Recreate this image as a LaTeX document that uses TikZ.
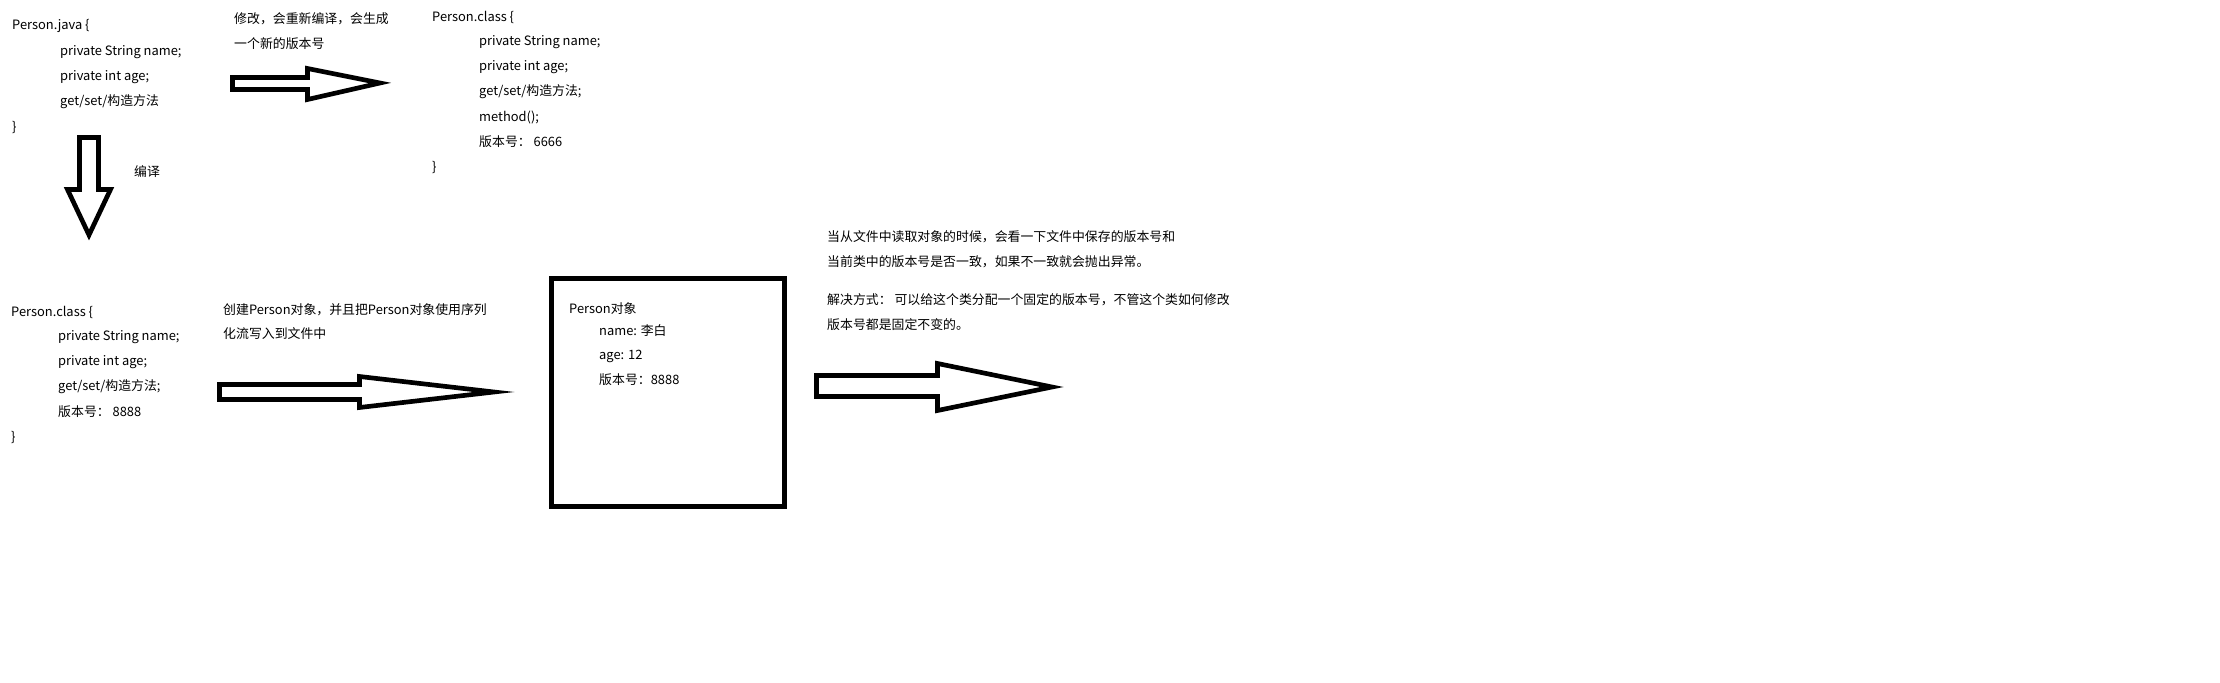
\documentclass[tikz,border=0pt]{standalone}
\usepackage{fontspec}
\setmainfont{Noto Sans CJK SC}
\begin{document}
\begin{tikzpicture}[x=0.03cm, y=-0.03cm,
        every node/.style={anchor=west, inner sep=0pt, font=\fontsize{11}{13}\selectfont},
        blockarrow/.style={draw, line width=0.14cm, line join=miter},
        objbox/.style={draw, line width=0.15cm}]
    \useasboundingbox (0,0) rectangle (2220,683);
    % source file
    \node (java0) at (12,26) {Person.java \{};
    \node (java1) at (60,52) {private String name;};
    \node (java2) at (60,77) {private int age;};
    \node (java3) at (60,102) {get/set/构造方法};
    \node (java4) at (12,127) {\}};
    \node (compile) at (134,172) {编译};
    % changed class
    \node (edit1) at (234,19) {修改，会重新编译，会生成};
    \node (edit2) at (234,44) {一个新的版本号};
    \node (new0) at (432,17) {Person.class \{};
    \node (new1) at (479,42) {private String name;};
    \node (new2) at (479,67) {private int age;};
    \node (new3) at (479,92) {get/set/构造方法;};
    \node (new4) at (479,117) {method();};
    \node (new5) at (479,142) {版本号： 6666};
    \node (new6) at (432,167) {\}};
    % compiled class
    \node (cls0) at (11,312) {Person.class \{};
    \node (cls1) at (58,337) {private String name;};
    \node (cls2) at (58,362) {private int age;};
    \node (cls3) at (58,387) {get/set/构造方法;};
    \node (cls4) at (58,412) {版本号： 8888};
    \node (cls5) at (11,437) {\}};
    \node (write1) at (223,310) {创建Person对象，并且把Person对象使用序列};
    \node (write2) at (223,334) {化流写入到文件中};
    % object in file
    \draw[objbox] (551.5,278.5) rectangle (784.5,506.5);
    \node (obj0) at (569,309) {Person对象};
    \node (obj1) at (599,331) {name: 李白};
    \node (obj2) at (599,356) {age: 12};
    \node (obj3) at (599,380) {版本号：8888};
    % explanation
    \node (read1) at (827,237) {当从文件中读取对象的时候，会看一下文件中保存的版本号和};
    \node (read2) at (827,262) {当前类中的版本号是否一致，如果不一致就会抛出异常。};
    \node (fix1) at (827,300) {解决方式： 可以给这个类分配一个固定的版本号，不管这个类如何修改};
    \node (fix2) at (827,325) {版本号都是固定不变的。};
    % block arrows
    \draw[blockarrow] (232.5,77.5) -- (307.5,77.5) -- (307.5,68.5) -- (380,83)
        -- (307.5,99.5) -- (307.5,89.5) -- (232.5,89.5) -- cycle;
    \draw[blockarrow] (79.5,137.5) -- (98.5,137.5) -- (98.5,189.5) -- (110.5,189.5)
        -- (89,235) -- (67.5,189.5) -- (79.5,189.5) -- cycle;
    \draw[blockarrow] (219.5,384.5) -- (359.5,384.5) -- (359.5,376.5) -- (494,392)
        -- (359.5,407.5) -- (359.5,399.5) -- (219.5,399.5) -- cycle;
    \draw[blockarrow] (816.5,375.5) -- (937.5,375.5) -- (937.5,363.5) -- (1052,387)
        -- (937.5,410.5) -- (937.5,396.5) -- (816.5,396.5) -- cycle;
\end{tikzpicture}
\end{document}
